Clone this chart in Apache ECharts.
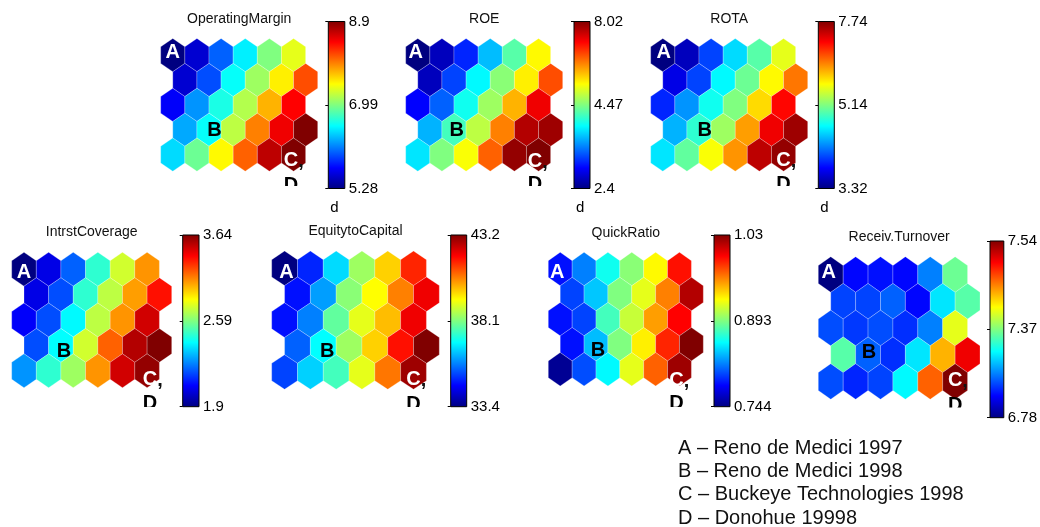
<!DOCTYPE html>
<html>
<head>
<meta charset="utf-8">
<script src="https://cdn.jsdelivr.net/npm/echarts@6/dist/echarts.min.js"></script>
<style>
  html, body { margin: 0; padding: 0; background: #fff; }
  #main { width: 1040px; height: 527px; }
</style>
</head>
<body>
<div id="main"></div>
<script>
// Component planes of a 5 x 6 hexagonal self-organising map.
// Each cell holds its level on the colour scale (0 = bottom of the colour bar, 1 = top).
const planeTitles = ['OperatingMargin', 'ROE', 'ROTA', 'IntrstCoverage', 'EquitytoCapital', 'QuickRatio', 'Receiv.Turnover'];

const operatingMargin = [
  [0.00, 0.08, 0.22, 0.36, 0.50, 0.60],
  [0.08, 0.20, 0.38, 0.53, 0.64, 0.80],
  [0.12, 0.27, 0.40, 0.55, 0.70, 0.875],
  [0.29, 0.38, 0.56, 0.75, 0.89, 1.00],
  [0.34, 0.48, 0.63, 0.78, 0.94, 1.00]
];
const roe = [
  [0.00, 0.06, 0.16, 0.31, 0.46, 0.63],
  [0.06, 0.19, 0.37, 0.51, 0.64, 0.80],
  [0.125, 0.22, 0.39, 0.53, 0.70, 0.89],
  [0.30, 0.44, 0.56, 0.75, 0.95, 0.97],
  [0.35, 0.50, 0.62, 0.78, 0.98, 1.00]
];
const rota = [
  [0.00, 0.06, 0.19, 0.34, 0.46, 0.60],
  [0.10, 0.19, 0.37, 0.48, 0.63, 0.76],
  [0.16, 0.27, 0.39, 0.50, 0.66, 0.87],
  [0.30, 0.42, 0.53, 0.72, 0.89, 0.97],
  [0.35, 0.47, 0.62, 0.73, 0.94, 0.98]
];
const intrstCoverage = [
  [0.00, 0.10, 0.22, 0.42, 0.58, 0.73],
  [0.10, 0.20, 0.42, 0.56, 0.72, 0.86],
  [0.12, 0.20, 0.37, 0.56, 0.73, 0.92],
  [0.20, 0.375, 0.58, 0.78, 0.95, 1.00],
  [0.27, 0.42, 0.53, 0.73, 0.92, 0.98]
];
const equityToCapital = [
  [0.00, 0.16, 0.34, 0.53, 0.67, 0.84],
  [0.14, 0.28, 0.51, 0.625, 0.75, 0.89],
  [0.14, 0.25, 0.47, 0.60, 0.69, 0.89],
  [0.22, 0.375, 0.53, 0.67, 0.86, 1.00],
  [0.19, 0.33, 0.44, 0.60, 0.76, 0.97]
];
const quickRatio = [
  [0.14, 0.25, 0.39, 0.51, 0.63, 0.86],
  [0.19, 0.32, 0.50, 0.60, 0.75, 0.95],
  [0.14, 0.19, 0.44, 0.57, 0.72, 0.875],
  [0.14, 0.31, 0.50, 0.64, 0.84, 1.00],
  [0.02, 0.20, 0.37, 0.60, 0.78, 0.97]
];
const receivTurnover = [
  [0.00, 0.13, 0.14, 0.13, 0.25, 0.48],
  [0.19, 0.19, 0.22, 0.13, 0.35, 0.46],
  [0.20, 0.18, 0.20, 0.17, 0.25, 0.60],
  [0.46, 0.22, 0.17, 0.35, 0.70, 0.89],
  [0.20, 0.16, 0.19, 0.37, 0.78, 1.00]
];

// Colour-bar tick labels: bottom, middle, top
const operatingMarginTicks = ['5.28', '6.99', '8.9'];
const roeTicks = ['2.4', '4.47', '8.02'];
const rotaTicks = ['3.32', '5.14', '7.74'];
const intrstCoverageTicks = ['1.9', '2.59', '3.64'];
const equityToCapitalTicks = ['33.4', '38.1', '43.2'];
const quickRatioTicks = ['0.744', '0.893', '1.03'];
const receivTurnoverTicks = ['6.78', '7.37', '7.54'];

// Map units that carry a company label (C and D share one unit)
const markedUnits = [
  { key: 'A', row: 0, col: 0 },
  { key: 'B', row: 3, col: 1 },
  { key: 'C', row: 4, col: 5 }
];

const legendNotes = [
  'A \u2013 Reno de Medici 1997',
  'B \u2013 Reno de Medici 1998',
  'C \u2013 Buckeye Technologies 1998',
  'D \u2013 Donohue 19998'
];

const planeValues = [operatingMargin, roe, rota, intrstCoverage, equityToCapital, quickRatio, receivTurnover];
const planeTicks = [operatingMarginTicks, roeTicks, rotaTicks, intrstCoverageTicks, equityToCapitalTicks, quickRatioTicks, receivTurnoverTicks];
const showUnitLabel = [true, true, true, false, false, false, false];

// Page layout (pixels): hex area edges, clip line, colour bar box, label nudges
const layout = [
  { left: 160.7, right: 317.7, top: 38.5, bottom: 171.2, clip: 186, titleY: 20,
    bar: { x: 328.3, w: 16.5, top: 21.5, bottom: 188.5 },
    nudge: { A: [0, -2.6], B: [5.5, 1], C: [-2.5, 6], D: 31 } },
  { left: 405.7, right: 562.7, top: 38.5, bottom: 171.2, clip: 186, titleY: 20,
    bar: { x: 574, w: 16, top: 21.5, bottom: 188.5 },
    nudge: { A: [-2, -2.6], B: [2.7, 1], C: [-3.5, 7], D: 30 } },
  { left: 650.7, right: 807.7, top: 38.5, bottom: 171.2, clip: 186, titleY: 20,
    bar: { x: 818.3, w: 16, top: 21.5, bottom: 188.5 },
    nudge: { A: [1, -2.6], B: [5.8, 1], C: [0, 5.4], D: 30 } },
  { left: 11.7, right: 171.7, top: 252.3, bottom: 387.7, clip: 407, titleY: 233,
    bar: { x: 182.7, w: 16.3, top: 235, bottom: 406.7 },
    nudge: { A: [0, 3.3], B: [3, 5.9], C: [3, 9], D: 32.5 } },
  { left: 271.7, right: 439.3, top: 251, bottom: 389.3, clip: 407, titleY: 232,
    bar: { x: 450.7, w: 16, top: 235, bottom: 406.7 },
    nudge: { A: [2, 4.2], B: [4, 5.3], C: [0, 7], D: 32.5 } },
  { left: 548.3, right: 703.3, top: 252.3, bottom: 386, clip: 407, titleY: 234,
    bar: { x: 714, w: 16, top: 235, bottom: 406.7 },
    nudge: { A: [-3, 3.5], B: [2, 6.5], C: [-3, 11], D: 34.5 } },
  { left: 818.3, right: 980, top: 256.7, bottom: 399.3, clip: 407.5, titleY: 238,
    bar: { x: 990, w: 15.5, top: 241, bottom: 417.7 },
    nudge: { A: [-2, -1.7], B: [1, -2.2], C: [0, -1], D: 24 } }
];

const FONT = "'Liberation Sans', Arial, Helvetica, sans-serif";
const JET = ['#000080', '#0000ff', '#0080ff', '#00ffff', '#80ff80', '#ffff00', '#ff8000', '#ff0000', '#800000'];

const grid = [], xAxis = [], yAxis = [], series = [], visualMap = [], title = [];

planeValues.forEach((values, i) => {
  const L = layout[i];
  const ticks = planeTicks[i];
  const rowUnit = (L.bottom - L.top) / (16 / 3);
  const yMax = (L.clip - L.top) / rowUnit - 2 / 3;
  const hexGrid = grid.length;

  // hexagon plane
  grid.push({ left: L.left, top: L.top, width: L.right - L.left, height: L.clip - L.top });
  xAxis.push({ type: 'value', gridIndex: hexGrid, min: -0.5, max: 6, show: false });
  yAxis.push({ type: 'value', gridIndex: hexGrid, min: -2 / 3, max: yMax, inverse: true, show: false });

  const cells = [];
  values.forEach((row, r) => row.forEach((v, c) => cells.push([c, r, v])));

  visualMap.push({
    show: false, type: 'continuous', seriesIndex: series.length, dimension: 2,
    min: 0, max: 1, inRange: { color: JET }
  });
  series.push({
    type: 'custom',
    xAxisIndex: hexGrid, yAxisIndex: hexGrid,
    data: cells,
    encode: { x: 0, y: 1 },
    silent: true,
    renderItem: (params, api) => {
      const c = api.value(0), r = api.value(1);
      const cx = c + (r % 2 ? 0.5 : 0);
      const pts = [
        [cx, r - 2 / 3], [cx + 0.5, r - 1 / 3], [cx + 0.5, r + 1 / 3],
        [cx, r + 2 / 3], [cx - 0.5, r + 1 / 3], [cx - 0.5, r - 1 / 3]
      ].map(p => api.coord(p));
      return {
        type: 'polygon',
        shape: { points: pts },
        style: { fill: api.visual('color'), stroke: 'rgba(255,255,255,0.4)', lineWidth: 0.6 }
      };
    }
  });

  // unit labels, clipped to the plane's box
  series.push({
    type: 'custom',
    xAxisIndex: hexGrid, yAxisIndex: hexGrid,
    data: markedUnits.map(m => [m.col + (m.row % 2 ? 0.5 : 0), m.row]),
    encode: { x: 0, y: 1 },
    clip: true,
    silent: true,
    z: 5,
    renderItem: (params, api) => {
      const m = markedUnits[params.dataIndex];
      const p = api.coord([api.value(0), api.value(1)]);
      const n = L.nudge;
      const bold = 'bold 20px ' + FONT;
      const txt = (s, x, y, fill) => ({
        type: 'text',
        style: { text: s, x, y, fill, font: bold, align: 'center', verticalAlign: 'middle' }
      });
      if (m.key === 'A') return txt('A', p[0] + n.A[0], p[1] + n.A[1], '#fff');
      if (m.key === 'B') return txt('B', p[0] + n.B[0], p[1] + n.B[1], '#000');
      const cx = p[0] + n.C[0];
      return {
        type: 'group',
        children: [
          txt('C', cx, p[1] + n.C[1], '#fff'),
          txt(',', cx + 10, p[1] + n.C[1] + 1, '#111'),
          txt('D', cx, p[1] + n.D, '#000')
        ]
      };
    }
  });

  // colour bar
  const barGrid = grid.length;
  grid.push({ left: L.bar.x, top: L.bar.top, width: L.bar.w, height: L.bar.bottom - L.bar.top });
  xAxis.push({ type: 'value', gridIndex: barGrid, min: 0, max: 1, show: false });
  yAxis.push({
    type: 'value', gridIndex: barGrid, min: 0, max: 2, interval: 1, position: 'right',
    axisLine: { show: false },
    splitLine: { show: false },
    axisTick: { show: true, inside: true, length: 3, lineStyle: { color: '#000', width: 1 } },
    axisLabel: {
      formatter: v => ticks[Math.round(v)],
      fontSize: 15, color: '#000', margin: 4, fontFamily: FONT
    }
  });
  series.push({
    type: 'custom',
    xAxisIndex: barGrid, yAxisIndex: barGrid,
    data: [[0, 0]],
    encode: { x: 0, y: 1 },
    silent: true,
    renderItem: (params, api) => {
      const p0 = api.coord([0, 0]);
      const p1 = api.coord([1, 2]);
      const stops = JET.map((c, k) => ({ offset: k / (JET.length - 1), color: c }));
      return {
        type: 'rect',
        shape: { x: p0[0], y: p1[1], width: p1[0] - p0[0], height: p0[1] - p1[1] },
        style: { fill: new echarts.graphic.LinearGradient(0, 1, 0, 0, stops), stroke: '#000', lineWidth: 1 }
      };
    }
  });

  title.push({
    text: planeTitles[i],
    left: (L.left + L.right) / 2, top: L.titleY - 8, textAlign: 'center', padding: 0,
    textStyle: { fontSize: 14, fontWeight: 'normal', color: '#111', fontFamily: FONT }
  });
  if (showUnitLabel[i]) {
    title.push({
      text: 'd', left: L.bar.x + 2, top: 200, padding: 0,
      textStyle: { fontSize: 15, fontWeight: 'normal', color: '#000', fontFamily: FONT }
    });
  }
});

legendNotes.forEach((t, k) => {
  title.push({
    text: t, left: 678, top: 438 + k * 23.4, padding: 0,
    textStyle: { fontSize: 20, fontWeight: 'normal', color: '#111', fontFamily: FONT }
  });
});

const chart = echarts.init(document.getElementById('main'), null, { renderer: 'canvas' });
chart.setOption({
  animation: false,
  backgroundColor: '#fff',
  title, grid, xAxis, yAxis, visualMap, series
});
</script>
</body>
</html>
